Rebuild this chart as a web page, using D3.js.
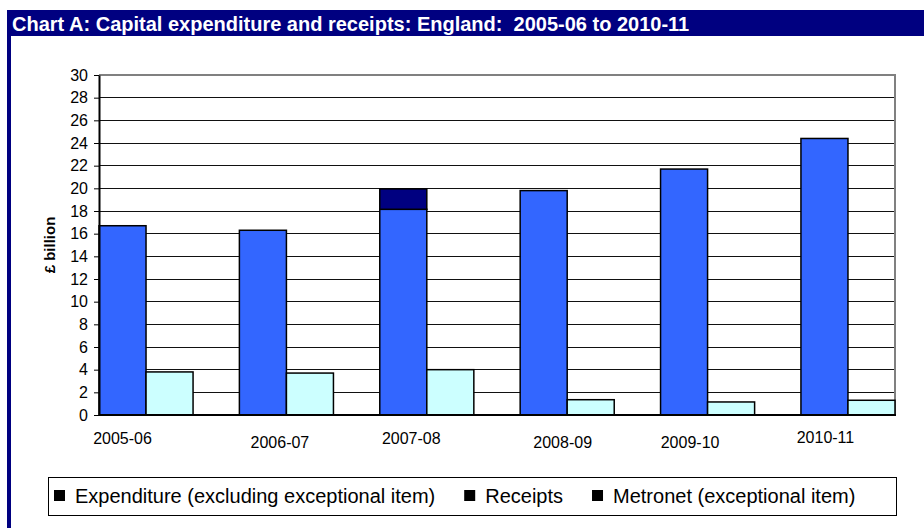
<!DOCTYPE html>
<html>
<head>
<meta charset="utf-8">
<script src="https://cdn.jsdelivr.net/npm/d3@7"></script>
<style>
  body { margin: 0; background: #fff; }
  text { font-family: "Liberation Sans", Arial, sans-serif; }
</style>
</head>
<body>
<svg id="chart" width="924" height="528"></svg>
<script>
const years = ['2005-06', '2006-07', '2007-08', '2008-09', '2009-10', '2010-11'];
const expenditure = [16.7, 16.3, 18.15, 19.8, 21.7, 24.4];
const receipts = [3.8, 3.7, 4.0, 1.35, 1.15, 1.3];
const metronet = [0, 0, 1.8, 0, 0, 0];
const yTicks = d3.range(0, 31, 2);
const legendLabels = ['Expenditure (excluding exceptional item)', 'Receipts', 'Metronet (exceptional item)'];

const navy = '#000080';
const colExp = '#3366ff';
const colRec = '#ccffff';

const svg = d3.select('#chart');

// frame + title bar
svg.append('rect').attr('x', 7).attr('y', 10).attr('width', 4).attr('height', 518).style('fill', navy);
svg.append('rect').attr('x', 7).attr('y', 10).attr('width', 917).attr('height', 26).style('fill', navy);
svg.append('text')
  .attr('x', 12).attr('y', 31)
  .style('fill', '#fff').style('font-size', '20px').style('font-weight', 'bold')
  .style('white-space', 'pre')
  .text('Chart A: Capital expenditure and receipts: England:  2005-06 to 2010-11');

const plotL = 99, plotR = 895, plotT = 75, plotB = 415;

const x = d3.scaleBand().domain(years).range([plotL, plotR]).paddingInner(0.33).paddingOuter(0);
const xSub = d3.scaleBand().domain(['exp', 'rec']).range([0, x.bandwidth()]);
const y = d3.scaleLinear().domain([0, 30]).range([plotB, plotT]);

// gridlines
svg.append('g').selectAll('line')
  .data(yTicks.filter(d => d > 0 && d < 30))
  .join('line')
  .attr('x1', plotL).attr('x2', plotR)
  .attr('y1', d => y(d)).attr('y2', d => y(d))
  .style('stroke', '#111').style('stroke-width', 1)
  .style('shape-rendering', 'crispEdges');

// plot border (top, right)
svg.append('path')
  .attr('d', `M${plotL},${y(30)}H${plotR}V${plotB}`)
  .style('fill', 'none').style('stroke', '#808080').style('stroke-width', 2);

// bars
const bars = svg.append('g');
bars.selectAll('.exp').data(years).join('rect')
  .attr('x', d => x(d) + xSub('exp'))
  .attr('width', xSub.bandwidth())
  .attr('y', (d, i) => y(expenditure[i]))
  .attr('height', (d, i) => y(0) - y(expenditure[i]))
  .style('fill', colExp).style('stroke', '#000').style('stroke-width', 1.5);

bars.selectAll('.met').data(years.filter((d, i) => metronet[i] > 0)).join('rect')
  .attr('x', d => x(d) + xSub('exp'))
  .attr('width', xSub.bandwidth())
  .attr('y', d => y(expenditure[years.indexOf(d)] + metronet[years.indexOf(d)]))
  .attr('height', d => y(0) - y(metronet[years.indexOf(d)]))
  .style('fill', navy).style('stroke', '#000').style('stroke-width', 1.5);

bars.selectAll('.rec').data(years).join('rect')
  .attr('x', d => x(d) + xSub('rec'))
  .attr('width', xSub.bandwidth())
  .attr('y', (d, i) => y(receipts[i]))
  .attr('height', (d, i) => y(0) - y(receipts[i]))
  .style('fill', colRec).style('stroke', '#000').style('stroke-width', 1.5);

// y axis
const yAxis = svg.append('g')
  .attr('transform', `translate(${plotL},0)`)
  .call(d3.axisLeft(y).tickValues(yTicks).tickSize(5).tickPadding(6).tickSizeOuter(0));
yAxis.select('.domain').style('stroke', '#000').style('stroke-width', 2);
yAxis.selectAll('.tick line').style('stroke', '#000');
yAxis.selectAll('.tick text').style('font-size', '16px').style('fill', '#000')
  .style('font-family', '"Liberation Sans", Arial, sans-serif');

// x axis baseline
svg.append('line')
  .attr('x1', plotL).attr('x2', plotR + 1)
  .attr('y1', plotB).attr('y2', plotB)
  .style('stroke', '#000').style('stroke-width', 2);

// category labels (staggered like the original text boxes)
const labelNudge = [[0, 0], [17, 4], [8, 0], [19, 4], [6, 4], [1, -1]];
svg.append('g').selectAll('text').data(years).join('text')
  .attr('x', (d, i) => x(d) + xSub('exp') + xSub.bandwidth() / 2 + labelNudge[i][0])
  .attr('y', (d, i) => 444 + labelNudge[i][1])
  .attr('text-anchor', 'middle')
  .style('font-size', '16px')
  .text(d => d);

// y title
svg.append('text')
  .attr('transform', `translate(55,${(plotT + plotB) / 2}) rotate(-90)`)
  .attr('text-anchor', 'middle')
  .style('font-size', '15px').style('font-weight', 'bold')
  .text('£ billion');

// legend
svg.append('rect')
  .attr('x', 48.5).attr('y', 477.5).attr('width', 848).attr('height', 38)
  .style('fill', '#fff').style('stroke', '#000').style('stroke-width', 1);

let lx = 54;
legendLabels.forEach((lab, i) => {
  svg.append('rect').attr('x', lx).attr('y', 490).attr('width', 11).attr('height', 11).style('fill', '#000');
  const t = svg.append('text')
    .attr('x', lx + 21).attr('y', 503)
    .style('font-size', '20px')
    .text(lab);
  lx += 21 + t.node().getComputedTextLength() + 29;
});
</script>
</body>
</html>
